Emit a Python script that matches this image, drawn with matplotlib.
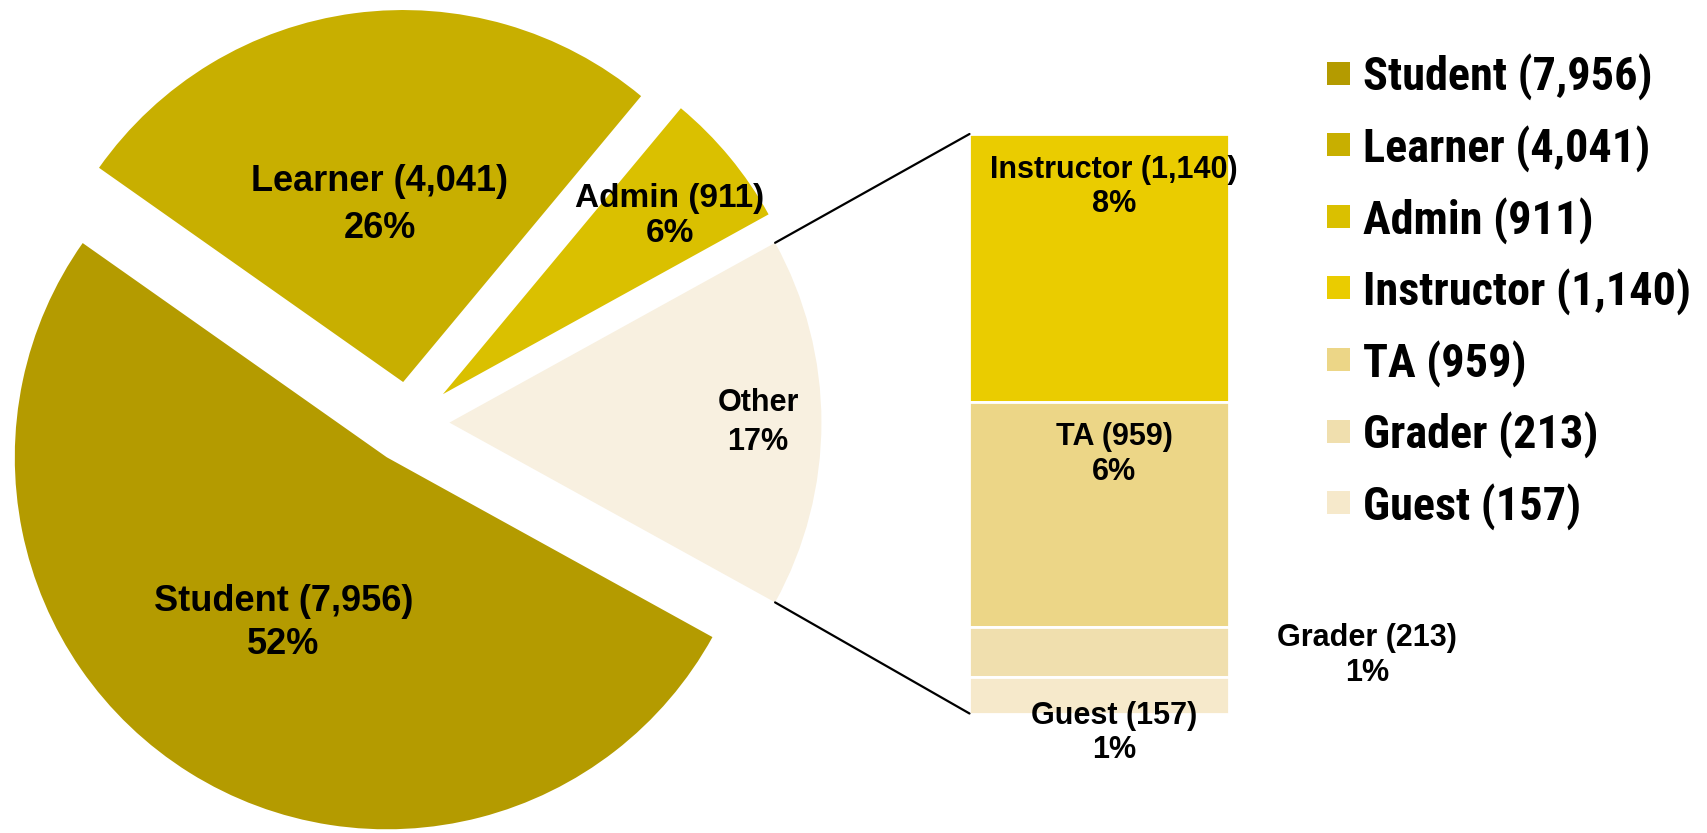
import matplotlib.pyplot as plt
from matplotlib import font_manager as fm
from matplotlib.patches import Rectangle, ConnectionPatch
import numpy as np

plt.rcParams['font.family'] = ['Liberation Sans', 'DejaVu Sans']

# data
main_roles = ['Student', 'Learner', 'Admin']
main_counts = [7956, 4041, 911]
main_pct = ['52%', '26%', '6%']
other_pct = '17%'

other_roles = ['Instructor', 'TA', 'Grader', 'Guest']
other_counts = [1140, 959, 213, 157]
other_sub_pct = ['8%', '6%', '1%', '1%']

main_colors = ['#b49b00', '#c8af00', '#dac000', '#f8f0e0']
other_colors = ['#eacc00', '#ecd687', '#f0dfae', '#f6e9cb']

W, H = 1708, 833
R = 372.0
cx, cy = 408.5, H - 422.6

fig = plt.figure(figsize=(W / 100, H / 100), dpi=100)

# pie, axes spanning the whole figure so 1 unit = R pixels
ax1 = fig.add_axes([0, 0, 1, 1])
other_total = sum(other_counts)
pie_vals = main_counts + [other_total]
total = sum(pie_vals)
start = -other_total / total * 360 / 2
wedges, _ = ax1.pie(pie_vals, colors=main_colors, explode=[0.11, 0.11, 0.12, 0.11],
                    startangle=start, counterclock=False, radius=1,
                    wedgeprops=dict(linewidth=0))
ax1.set_xlim(-cx / R, (W - cx) / R)
ax1.set_ylim(-cy / R, (H - cy) / R)
ax1.axis('off')

pie_labels = [f'{r} ({c:,})\n{p}' for r, c, p in zip(main_roles, main_counts, main_pct)]
pie_labels.append(f'Other\n{other_pct}')
label_dist = [0.525, 0.48, 0.776, 0.83]
label_ang = [0, 0, -1.4, 0]
label_size = [26, 26, 24, 22]
label_ls = [1.3, 1.42, 1.15, 1.42]
for w, lab, d, da, fs, ls in zip(wedges, pie_labels, label_dist, label_ang, label_size, label_ls):
    th = np.deg2rad((w.theta1 + w.theta2) / 2 + da)
    x0, y0 = w.center
    ax1.text(x0 + d * np.cos(th), y0 + d * np.sin(th), lab, ha='center', va='center',
             fontsize=fs, fontweight='bold', linespacing=ls)

# stacked bar for "Other"
bl, bt, br, bb = 969.5, 134, 1228.7, 713.5
ax2 = fig.add_axes([bl / W, (H - bb) / H, (br - bl) / W, (bb - bt) / H])
tops = other_total - np.concatenate([[0], np.cumsum(other_counts)[:-1]])
bottoms = tops - np.array(other_counts)
ax2.bar(0, other_counts, bottom=bottoms, width=1, color=other_colors,
        edgecolor='white', linewidth=2)
ax2.set_xlim(-0.5, 0.5)
ax2.set_ylim(0, other_total)
ax2.axis('off')

for i, (r, c, p) in enumerate(zip(other_roles, other_counts, other_sub_pct)):
    lab = f'{r} ({c:,})\n{p}'
    mid = (tops[i] + bottoms[i]) / 2
    if r == 'Grader':
        xy, off = (0.5, mid), (138, -4)
    elif r == 'Guest':
        xy, off = (0, mid), (15, -38)
    else:
        xy, off = (0, tops[i]), (15, -53)
    ax2.annotate(lab, xy=xy, xytext=off, textcoords='offset pixels', ha='center',
                 va='center', fontsize=22, fontweight='bold', linespacing=1.2,
                 annotation_clip=False)

# connector lines from the "Other" wedge to the bar
ow = wedges[3]
ox, oy = ow.center
for ang, yb in [(max(ow.theta1, ow.theta2), other_total), (min(ow.theta1, ow.theta2), 0)]:
    a = np.deg2rad(ang)
    con = ConnectionPatch(xyA=(ox + np.cos(a), oy + np.sin(a)), coordsA=ax1.transData,
                          xyB=(-0.5, yb), coordsB=ax2.transData, color='black', lw=1.6)
    fig.add_artist(con)

# legend (condensed bold face if present)
have = {f.name for f in fm.fontManager.ttflist}
if 'Roboto Condensed' in have:
    leg_family, leg_size = ['Roboto Condensed', 'Liberation Sans'], 33.3
else:
    leg_family, leg_size = ['Liberation Sans'], 27

leg_names = main_roles + other_roles
leg_counts = main_counts + other_counts
leg_colors = main_colors[:3] + other_colors
for i, (n, c, col) in enumerate(zip(leg_names, leg_counts, leg_colors)):
    y = 73 + i * 71.6
    fig.add_artist(Rectangle((1327 / W, 1 - (y + 11.5) / H), 23 / W, 23 / H,
                             transform=fig.transFigure, color=col, lw=0))
    fig.text(1363 / W, 1 - (y + 4) / H, f'{n} ({c:,})', va='center', ha='left',
             fontsize=leg_size, fontweight='bold', family=leg_family)

fig.savefig('out.png', dpi=100)
